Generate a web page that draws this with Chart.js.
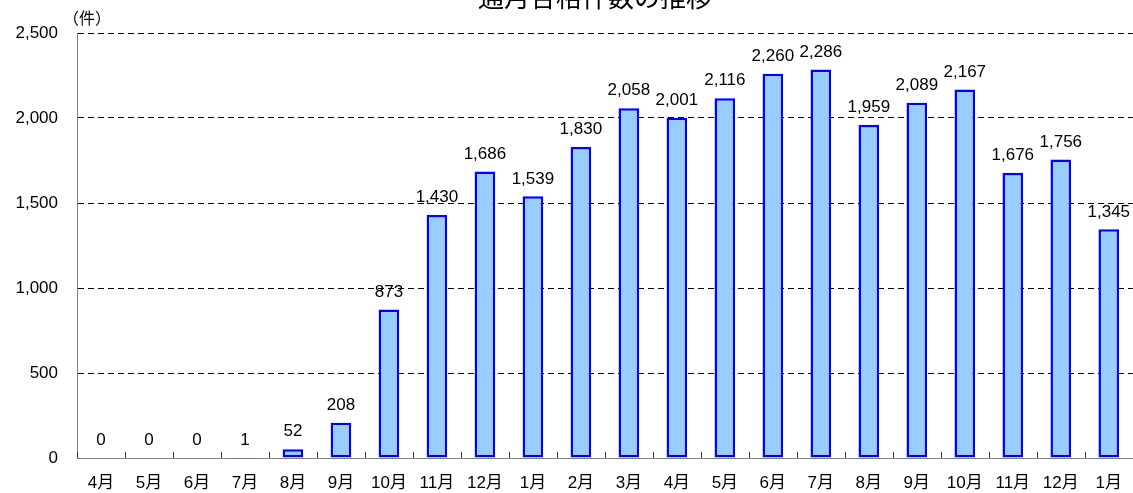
<!DOCTYPE html>
<html>
<head>
<meta charset="utf-8">
<script src="https://cdn.jsdelivr.net/npm/chart.js@4/dist/chart.umd.min.js"></script>
<style>
    html, body { margin: 0; padding: 0; background: #fff; overflow: hidden; }
    canvas { display: block; }
</style>
</head>
<body>
<canvas id="chart" width="1137" height="493"></canvas>
<script>
const title = '通月合格件数の推移';
const unitLabel = '（件）';
const months = ['4月', '5月', '6月', '7月', '8月', '9月', '10月', '11月', '12月', '1月', '2月',
    '3月', '4月', '5月', '6月', '7月', '8月', '9月', '10月', '11月', '12月', '1月'];
const counts = [0, 0, 0, 1, 52, 208, 873, 1430, 1686, 1539, 1830,
    2058, 2001, 2116, 2260, 2286, 1959, 2089, 2167, 1676, 1756, 1345];
const yTicks = [0, 500, 1000, 1500, 2000, 2500];

const FONT = '"Liberation Sans", Arial, "Noto Sans CJK JP", sans-serif';

// value labels over each bar, title and unit text, inner tick marks on the x axis
const extras = {
    id: 'extras',
    afterDatasetsDraw(chart) {
        const ctx = chart.ctx;
        const meta = chart.getDatasetMeta(0);
        const xScale = chart.scales.x;
        const area = chart.chartArea;
        ctx.save();

        // small tick marks between categories, pointing up into the plot
        ctx.strokeStyle = '#333';
        ctx.lineWidth = 1;
        const half = (xScale.getPixelForTick(1) - xScale.getPixelForTick(0)) / 2;
        for (let i = 0; i <= months.length; i++) {
            const px = Math.round(xScale.getPixelForTick(Math.min(i, months.length - 1)) + (i === months.length ? half : -half)) + 0.5;
            ctx.beginPath();
            ctx.moveTo(px, area.bottom);
            ctx.lineTo(px, area.bottom - 6);
            ctx.stroke();
        }

        ctx.fillStyle = '#000';
        ctx.font = '17px ' + FONT;
        ctx.textAlign = 'center';
        ctx.textBaseline = 'bottom';
        meta.data.forEach((bar, i) => {
            ctx.fillText(counts[i].toLocaleString('en-US'), bar.x, bar.y - 9);
        });

        ctx.textAlign = 'left';
        ctx.textBaseline = 'middle';
        ctx.font = '16px "Noto Sans CJK JP", sans-serif';
        ctx.fillText(unitLabel, area.left - 14, 18);

        ctx.textAlign = 'center';
        ctx.font = '26px "Noto Sans CJK JP", sans-serif';
        ctx.fillText(title, 595, -3);
        ctx.restore();
    }
};

new Chart(document.getElementById('chart'), {
    type: 'bar',
    data: {
        labels: months,
        datasets: [{
            data: counts,
            backgroundColor: '#99ccff',
            borderColor: '#0000ff',
            borderWidth: 2.5,
            borderSkipped: false,
            barPercentage: 0.43,
            categoryPercentage: 1
        }]
    },
    options: {
        responsive: false,
        animation: false,
        layout: { padding: { top: 33, right: 0, left: 0, bottom: 0 } },
        plugins: {
            legend: { display: false },
            tooltip: { enabled: false }
        },
        scales: {
            x: {
                grid: { display: false, drawTicks: false },
                border: { color: '#808080', width: 1 },
                ticks: {
                    color: '#000',
                    font: { size: 17, family: FONT },
                    padding: 15,
                    maxRotation: 0,
                    autoSkip: false
                },
                afterFit(scale) { scale.height = 35; }
            },
            y: {
                min: 0,
                max: 2500,
                afterBuildTicks(scale) { scale.ticks = yTicks.map(v => ({ value: v })); },
                grid: {
                    color: ctx => ctx.tick && ctx.tick.value === 0 ? 'rgba(0,0,0,0)' : '#000',
                    drawTicks: false
                },
                border: { color: '#808080', width: 1, dash: [6, 4] },
                ticks: {
                    color: '#000',
                    font: { size: 17, family: FONT },
                    padding: 19,
                    callback: v => v.toLocaleString('en-US')
                },
                afterFit(scale) { scale.width = 77; }
            }
        }
    },
    plugins: [extras]
});
</script>
</body>
</html>
